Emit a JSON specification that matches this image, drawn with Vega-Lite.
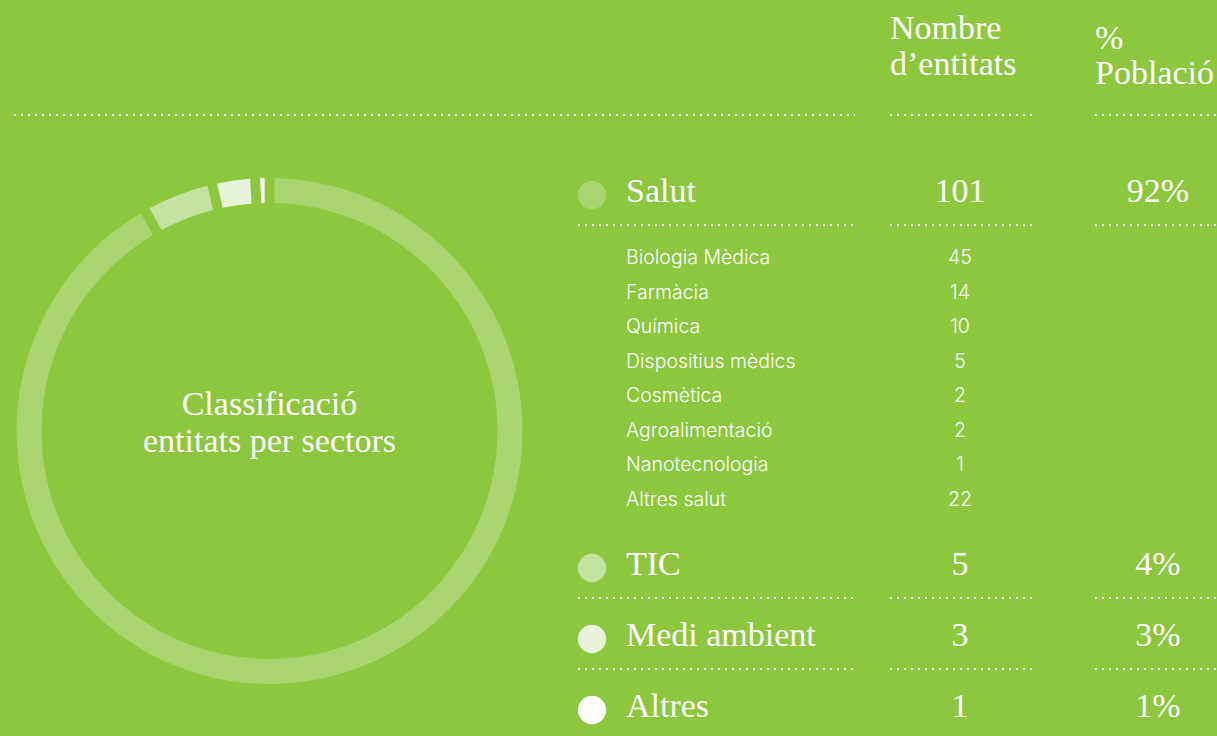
{
  "$schema": "https://vega.github.io/schema/vega-lite/v6.json",
  "width": 1217,
  "height": 736,
  "autosize": {"type": "none"},
  "padding": 0,
  "background": "#8dc63f",
  "config": {"view": {"stroke": null}, "font": "Liberation Serif"},
  "datasets": {
    "taula": [
      {"nom": "Salut", "nivell": "sector", "entitats": 101, "poblacio": "92%", "fila": 1},
      {"nom": "Biologia Mèdica", "nivell": "subsector", "entitats": 45, "fila": 2},
      {"nom": "Farmàcia", "nivell": "subsector", "entitats": 14, "fila": 3},
      {"nom": "Química", "nivell": "subsector", "entitats": 10, "fila": 4},
      {"nom": "Dispositius mèdics", "nivell": "subsector", "entitats": 5, "fila": 5},
      {"nom": "Cosmètica", "nivell": "subsector", "entitats": 2, "fila": 6},
      {"nom": "Agroalimentació", "nivell": "subsector", "entitats": 2, "fila": 7},
      {"nom": "Nanotecnologia", "nivell": "subsector", "entitats": 1, "fila": 8},
      {"nom": "Altres salut", "nivell": "subsector", "entitats": 22, "fila": 9},
      {"nom": "TIC", "nivell": "sector", "entitats": 5, "poblacio": "4%", "fila": 10},
      {"nom": "Medi ambient", "nivell": "sector", "entitats": 3, "poblacio": "3%", "fila": 11},
      {"nom": "Altres", "nivell": "sector", "entitats": 1, "poblacio": "1%", "fila": 12}
    ]
  },
  "layer": [
    {
      "data": {"name": "taula"},
      "transform": [{"filter": "datum.nivell === 'sector'"}],
      "mark": {"type": "arc", "radius": 253, "radius2": 228, "padAngle": 0.029, "x": 269.5, "y": 431},
      "encoding": {
        "theta": {"field": "entitats", "type": "quantitative", "stack": true},
        "order": {"field": "fila", "type": "quantitative", "sort": "ascending"},
        "color": {"field": "nom", "type": "nominal", "legend": null,
          "scale": {"domain": ["Salut", "TIC", "Medi ambient", "Altres"], "range": ["#a9d46f", "#c6e29f", "#e8f4d9", "#ffffff"]}}
      }
    },
    {
      "data": {"values": [{}]},
      "mark": {"type": "text", "text": ["Classificació", "entitats per sectors"], "x": 269.5, "y": 415, "align": "center", "baseline": "alphabetic", "fontSize": 34, "lineHeight": 36.5, "fill": "#ffffff"}
    },
    {
      "data": {"values": [{}]},
      "mark": {"type": "text", "text": ["Nombre", "d’entitats"], "x": 890, "y": 39, "align": "left", "baseline": "alphabetic", "fontSize": 34, "lineHeight": 35.5, "fill": "#ffffff"}
    },
    {
      "data": {"values": [{}]},
      "mark": {"type": "text", "text": ["%", "Població"], "x": 1095, "y": 49, "align": "left", "baseline": "alphabetic", "fontSize": 34, "lineHeight": 34.5, "fill": "#ffffff"}
    },
    {
      "data": {"values": [{}]},
      "mark": {"type": "rule", "stroke": "#ffffff", "strokeWidth": 2, "strokeDash": [2, 5]},
      "encoding": {"x": {"value": 14}, "x2": {"value": 855}, "y": {"value": 115}}
    },
    {
      "data": {"values": [{}]},
      "mark": {"type": "rule", "stroke": "#ffffff", "strokeWidth": 2, "strokeDash": [2, 5]},
      "encoding": {"x": {"value": 890}, "x2": {"value": 1033}, "y": {"value": 115}}
    },
    {
      "data": {"values": [{}]},
      "mark": {"type": "rule", "stroke": "#ffffff", "strokeWidth": 2, "strokeDash": [2, 5]},
      "encoding": {"x": {"value": 1095}, "x2": {"value": 1217}, "y": {"value": 115}}
    },
    {
      "data": {"name": "taula"},
      "transform": [{"filter": "datum.nivell === 'sector' && datum.nom !== 'Altres'"}],
      "layer": [
        {"mark": {"type": "rule", "x": 578, "x2": 855, "yOffset": 23, "stroke": "#ffffff", "strokeWidth": 2, "strokeDash": [2, 5]}},
        {"mark": {"type": "rule", "x": 890, "x2": 1033, "yOffset": 23, "stroke": "#ffffff", "strokeWidth": 2, "strokeDash": [2, 5]}},
        {"mark": {"type": "rule", "x": 1095, "x2": 1217, "yOffset": 23, "stroke": "#ffffff", "strokeWidth": 2, "strokeDash": [2, 5]}}
      ],
      "encoding": {
        "y": {"field": "fila", "type": "quantitative", "axis": null,
          "scale": {"domain": [1, 2, 9, 10, 12], "range": [202, 264, 506, 575, 717], "nice": false, "zero": false}}
      }
    },
    {
      "data": {"name": "taula"},
      "transform": [{"filter": "datum.nivell === 'sector'"}],
      "encoding": {
        "y": {"field": "fila", "type": "quantitative", "axis": null}
      },
      "layer": [
        {
          "mark": {"type": "point", "shape": "circle", "filled": true, "size": 804, "opacity": 1, "x": 592, "yOffset": -7},
          "encoding": {"color": {"field": "nom", "type": "nominal", "legend": null}}
        },
        {
          "mark": {"type": "text", "x": 626, "align": "left", "baseline": "alphabetic", "fontSize": 34, "fill": "#ffffff"},
          "encoding": {"text": {"field": "nom"}}
        },
        {
          "mark": {"type": "text", "x": 960, "align": "center", "baseline": "alphabetic", "fontSize": 34, "fill": "#ffffff"},
          "encoding": {"text": {"field": "entitats"}}
        },
        {
          "mark": {"type": "text", "x": 1158, "align": "center", "baseline": "alphabetic", "fontSize": 34, "fill": "#ffffff"},
          "encoding": {"text": {"field": "poblacio"}}
        }
      ]
    },
    {
      "data": {"name": "taula"},
      "transform": [{"filter": "datum.nivell === 'subsector'"}],
      "encoding": {
        "y": {"field": "fila", "type": "quantitative", "axis": null}
      },
      "layer": [
        {
          "mark": {"type": "text", "x": 626, "align": "left", "baseline": "alphabetic", "font": "Inter", "fontWeight": 300, "fontSize": 19.5, "fill": "#ffffff"},
          "encoding": {"text": {"field": "nom"}}
        },
        {
          "mark": {"type": "text", "x": 960, "align": "center", "baseline": "alphabetic", "font": "Inter", "fontWeight": 300, "fontSize": 19.5, "fill": "#ffffff"},
          "encoding": {"text": {"field": "entitats"}}
        }
      ]
    }
  ]
}
